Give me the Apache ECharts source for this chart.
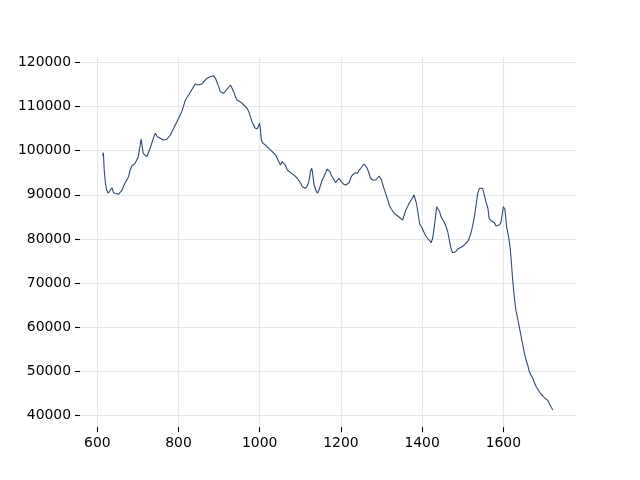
<!DOCTYPE html>
<html>
<head>
<meta charset="utf-8">
<script src="https://cdn.jsdelivr.net/npm/echarts@6/dist/echarts.min.js"></script>
<style>html,body{margin:0;padding:0;background:#fff}#c{width:640px;height:480px}</style>
</head>
<body>
<div id="c"></div>
<script>
const xValues = [613,615,617,620,623,627,631,636,640,644,652,660,668,677,681,685,693,697,701,705,708,710,713,717,722,730,734,738,743,748,755,763,771,775,780,788,792,796,804,808,812,817,825,829,837,841,849,858,862,870,878,886,889,891,899,903,911,915,928,932,936,940,944,952,961,969,973,977,981,985,989,994,998,1000,1002,1004,1008,1014,1018,1022,1026,1031,1035,1039,1043,1047,1051,1055,1059,1063,1068,1072,1076,1080,1084,1088,1092,1096,1101,1105,1109,1113,1117,1121,1125,1128,1130,1133,1138,1142,1146,1150,1154,1158,1162,1166,1169,1173,1176,1181,1187,1191,1195,1199,1201,1204,1207,1212,1216,1220,1224,1228,1232,1236,1241,1244,1249,1253,1257,1261,1265,1269,1273,1278,1282,1286,1290,1294,1296,1300,1302,1306,1310,1315,1319,1323,1327,1331,1335,1339,1343,1347,1352,1356,1360,1364,1368,1372,1376,1380,1383,1386,1390,1394,1399,1404,1409,1413,1417,1422,1426,1430,1434,1436,1440,1443,1446,1450,1454,1459,1463,1467,1471,1475,1479,1483,1487,1491,1496,1500,1504,1508,1512,1516,1520,1524,1528,1533,1537,1541,1545,1549,1553,1557,1562,1565,1570,1574,1578,1582,1586,1590,1594,1597,1600,1604,1608,1613,1617,1620,1623,1627,1631,1636,1640,1644,1648,1652,1656,1660,1664,1668,1673,1677,1681,1685,1689,1693,1697,1701,1705,1710,1714,1718,1722];
const yValues = [98800,99530,95620,92610,91090,90340,90640,91610,90480,90750,90120,90930,92610,94100,95620,96520,97130,97500,98630,100890,102640,101280,99400,99010,98630,100530,101660,102790,103930,103160,102790,102410,102520,103020,103540,105060,105420,106550,108070,108820,109950,111470,112600,112980,114480,115090,114860,115090,115610,116380,116740,116970,117130,116380,114480,113340,112980,113340,114860,114630,113340,112210,111470,111080,110330,109590,108820,108450,106550,105810,105060,104940,105060,106190,104670,102410,101660,101280,100890,100530,100530,99760,99400,99010,98270,97880,96750,97500,97130,96750,95620,95230,95010,94870,94490,94100,93810,93510,92610,91840,91470,91470,91990,92970,95230,96000,95230,92610,91090,90340,91090,92220,93350,94100,94490,95780,96000,95230,94490,93740,92740,92970,93740,94000,92970,92610,92380,92220,92380,92740,93740,94490,94870,95010,94870,95460,96000,96520,96980,96750,96000,94870,93740,93350,93510,93350,93470,94260,94490,93350,92610,91470,90340,88980,87690,86950,86560,85810,85430,85270,85040,84680,84300,85430,86560,87310,88080,88440,89210,90000,89770,88080,85810,83390,82640,81650,80670,80380,79770,79160,80150,82780,85810,87310,86950,86180,85200,84460,83910,82780,81650,79770,77890,76890,76600,77120,77660,77890,78120,78410,78640,79020,79390,80150,81290,82780,84680,87690,90340,91470,91840,91470,90000,88440,86950,84680,84140,83910,83690,82940,82640,83170,83690,85430,87310,86720,82780,80520,77890,74490,70710,66930,63920,61660,59780,57880,56000,54120,52600,51470,49950,49210,48460,47330,46560,45970,45420,44900,44450,44070,43930,43390,42570,41890,41280];
const xTicks = [600,800,1000,1200,1400,1600];
const yTicks = [40000,50000,60000,70000,80000,90000,100000,110000,120000];

const data = xValues.map((x, i) => [x, yValues[i]]);
const chart = echarts.init(document.getElementById('c'), null, {renderer: 'canvas'});
const gridLine = {show: true, lineStyle: {color: '#e6e6e6', width: 1.2}};
const label = {color: '#000', fontSize: 13.9, fontFamily: 'DejaVu Sans', formatter: v => String(v)};
const tick = {show: true, inside: false, length: 5, lineStyle: {color: '#000', width: 1.1}};
chart.setOption({
  animation: false,
  backgroundColor: '#fff',
  grid: {left: 80, right: 64, top: 57.6, bottom: 52.8},
  xAxis: {
    type: 'value', min: 557.4, max: 1779,
    axisLine: {show: true, lineStyle: {color: '#fff', opacity: 0}},
    axisTick: Object.assign({customValues: xTicks}, tick),
    axisLabel: Object.assign({customValues: xTicks, margin: 9}, label),
    splitLine: gridLine
  },
  yAxis: {
    type: 'value', min: 37390, max: 121060,
    axisLine: {show: true, lineStyle: {color: '#fff', opacity: 0}},
    axisTick: Object.assign({customValues: yTicks}, tick),
    axisLabel: Object.assign({customValues: yTicks, margin: 9}, label),
    splitLine: gridLine
  },
  series: [{
    type: 'line', data: data, symbol: 'none', showSymbol: false,
    lineStyle: {color: '#2e4a6e', width: 1.1},
    z: 3
  }]
});
</script>
</body>
</html>
